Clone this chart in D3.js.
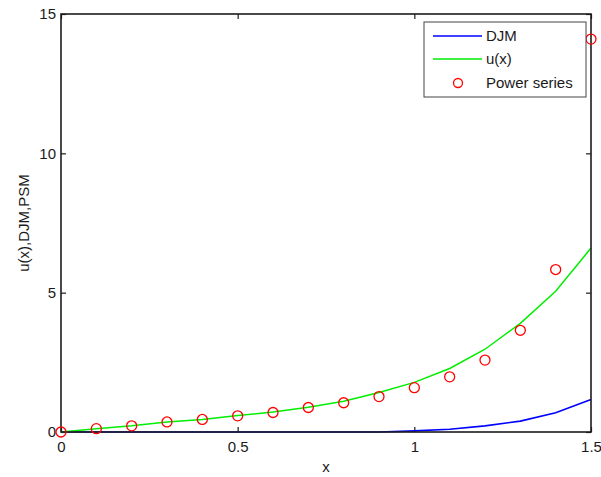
<!DOCTYPE html>
<html>
<head>
<meta charset="utf-8">
<script src="https://cdn.jsdelivr.net/npm/d3@7"></script>
<style>
  html, body { margin: 0; padding: 0; background: #fff; }
  svg { display: block; font-family: "Liberation Sans", Arial, sans-serif; }
</style>
</head>
<body>
<svg id="chart" width="601" height="477"></svg>
<script>
// Sample points
const xs = [0, 0.1, 0.2, 0.3, 0.4, 0.5, 0.6, 0.7, 0.8, 0.9, 1.0, 1.1, 1.2, 1.3, 1.4, 1.5];
// DJM approximation
const djm = [0, 0, 0, 0, 0, 0, 0, 0, 0, 0, 0.04, 0.10, 0.22, 0.39, 0.69, 1.17];
// Exact solution u(x)
const uExact = [0, 0.12, 0.22, 0.36, 0.45, 0.59, 0.72, 0.89, 1.10, 1.42, 1.78, 2.28, 2.97, 3.90, 5.05, 6.60];
// Power series method
const psm = [0, 0.12, 0.22, 0.36, 0.45, 0.58, 0.70, 0.88, 1.05, 1.27, 1.59, 1.98, 2.58, 3.65, 5.83, 14.1];

const xTicks = [0, 0.5, 1, 1.5];
const yTicks = [0, 5, 10, 15];
const legendLabels = ["DJM", "u(x)", "Power series"];

const svg = d3.select("#chart");
const plot = { left: 61, top: 14, right: 591, bottom: 432 };

const x = d3.scaleLinear().domain([0, 1.5]).range([plot.left, plot.right]);
const y = d3.scaleLinear().domain([0, 15]).range([plot.bottom, plot.top]);

const axisColor = "#1c1c1c";
const textColor = "#1a1a1a";

// White plotting area
svg.append("rect")
  .attr("x", plot.left).attr("y", plot.top)
  .attr("width", plot.right - plot.left).attr("height", plot.bottom - plot.top)
  .attr("fill", "#fff");

// Axes with inward ticks on all four sides
const fmt = d => d3.format("~g")(d);
const bottomAxis = d3.axisBottom(x).tickValues(xTicks).tickSize(-5).tickPadding(9).tickFormat(fmt);
const topAxis = d3.axisTop(x).tickValues(xTicks).tickSize(-5).tickFormat("");
const leftAxis = d3.axisLeft(y).tickValues(yTicks).tickSize(-5).tickPadding(5).tickFormat(fmt);
const rightAxis = d3.axisRight(y).tickValues(yTicks).tickSize(-5).tickFormat("");

function styleAxis(g) {
  g.select(".domain").remove();
  g.selectAll(".tick line").attr("stroke", axisColor).attr("stroke-width", 1.2);
  g.selectAll(".tick text").attr("fill", textColor)
    .style("font-size", "15px").style("font-family", "'Liberation Sans', Arial, sans-serif");
}

svg.append("g").attr("transform", `translate(0,${plot.bottom})`).call(bottomAxis).call(styleAxis);
svg.append("g").attr("transform", `translate(0,${plot.top})`).call(topAxis).call(styleAxis);
svg.append("g").attr("transform", `translate(${plot.left},0)`).call(leftAxis).call(styleAxis);
svg.append("g").attr("transform", `translate(${plot.right},0)`).call(rightAxis).call(styleAxis);

const pts = (vals) => xs.map((d, i) => [d, vals[i]]);
const line = d3.line().x(d => x(d[0])).y(d => y(d[1]));

// DJM curve
svg.append("path").datum(pts(djm))
  .attr("d", line).attr("fill", "none")
  .attr("stroke", "#0000ff").attr("stroke-width", 1.6);

// u(x) curve
svg.append("path").datum(pts(uExact))
  .attr("d", line).attr("fill", "none")
  .attr("stroke", "#00ee00").attr("stroke-width", 1.5);

// Box frame
svg.append("rect")
  .attr("x", plot.left).attr("y", plot.top)
  .attr("width", plot.right - plot.left).attr("height", plot.bottom - plot.top)
  .attr("fill", "none").attr("stroke", axisColor).attr("stroke-width", 1.6);

// Power series markers
svg.append("g").selectAll("circle")
  .data(pts(psm)).join("circle")
  .attr("cx", d => x(d[0])).attr("cy", d => y(d[1]))
  .attr("r", 5)
  .attr("fill", "none").attr("stroke", "#ff0000").attr("stroke-width", 1.3);

// Axis titles
svg.append("text")
  .attr("x", (plot.left + plot.right) / 2).attr("y", 472)
  .attr("text-anchor", "middle").attr("fill", textColor)
  .style("font-size", "15px").text("x");

svg.append("text")
  .attr("transform", `translate(29,${(plot.top + plot.bottom) / 2}) rotate(-90)`)
  .attr("text-anchor", "middle").attr("fill", textColor)
  .style("font-size", "15px").text("u(x),DJM,PSM");

// Legend
const legend = svg.append("g");
legend.append("rect")
  .attr("x", 424).attr("y", 22).attr("width", 162).attr("height", 75)
  .attr("fill", "#fff").attr("stroke", "#444").attr("stroke-width", 1);

const rowsY = [36, 59, 83];
const legendColors = ["#0000ff", "#00ee00", "#ff0000"];
legendLabels.forEach((lab, i) => {
  if (i < 2) {
    legend.append("line")
      .attr("x1", 433).attr("x2", 482).attr("y1", rowsY[i]).attr("y2", rowsY[i])
      .attr("stroke", legendColors[i]).attr("stroke-width", 1.5);
  } else {
    legend.append("circle")
      .attr("cx", 458).attr("cy", rowsY[i]).attr("r", 4.5)
      .attr("fill", "none").attr("stroke", legendColors[i]).attr("stroke-width", 1.3);
  }
  legend.append("text")
    .attr("x", 486).attr("y", rowsY[i]).attr("dy", "0.35em")
    .attr("fill", textColor).style("font-size", "15px").text(lab);
});
</script>
</body>
</html>
